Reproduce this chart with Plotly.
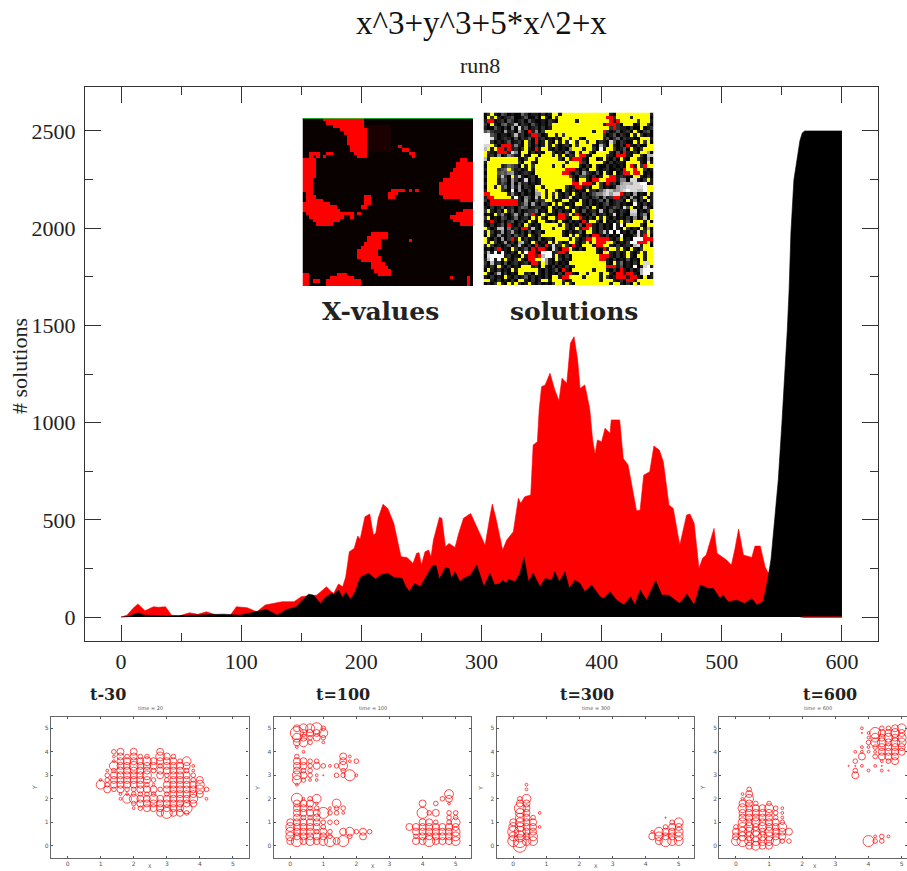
import plotly.graph_objects as go

W, H = 907, 871

# ---------- main chart data ----------
red_x = [0,5,10,14,20,27,31,37,42,48,57,64,71,80,91,96,105,113,120,127,134,144,150,163,171,175,177,181,184.5,187,190,194,197,199,203,207,210,212,214,218,222,227,230,233,238,243,246,248,250,253,256,258,260,265,267,270,273,278,281,285,291,296,303,307,309,312,315,317.6,321,326.5,330.7,332.6,336,341,343,346.5,348,350,353,357,361,364.5,367,371,374,377,380,382,386,390,392.5,394.5,396.5,400,402.8,407,408,415,418,422,429,432,435,440,443.5,448,451.3,456,459.6,465,470.7,473.5,477,481,484,487,493.5,496,504,508,511,514,518,525,527.6,532,536,538.7,540.6,565,600]
red_y = [0,10,45,67,33,53,50,53,10,5,22,14,27,10,10,53,48,27,62,70,79,79,105,113,156,130,122,170,156,206,336,353,417,400,516,530,422,431,508,580,559,482,396,310,307,276,328,331,268,336,345,310,396,513,508,362,379,358,430,508,533,465,370,516,581,508,413,345,396,439,611,585,619,628,885,902,1065,1185,1194,1254,1168,1113,1228,1202,1408,1442,1322,1176,1194,1074,911,839,911,902,971,945,1014,1014,816,782,547,550,730,748,880,859,799,576,559,370,525,530,482,250,302,319,456,328,293,268,353,453,319,307,365,365,259,225,250,0,0]
black_x = [0,6,14,19,38,66,85,99,112,121,130,138,146,156,160,166,170,175,177,181,184.5,187,191,195,199,206,212,216,222,227,234,237,240,244,249,253,259,262,265,270,273,275,278,282,285,291,296,302,307,311,315,318,320.4,322.3,328,332,335.4,339,343,348.7,352.9,358.4,361,364.8,369.5,373,377.8,382,386,391.7,398.6,401.4,407,412.5,418.6,424,427.7,432,437.4,445,450,455.5,465,471,477,482,488.8,493,498.5,501,505.4,512.4,519,525,529,534.5,538.7,541,544,547,550,552.6,554.5,556,557.5,560,563,565,567,569,600]
black_y = [0,3,22,10,5,10,15,10,27,39,10,39,53,118,113,70,100,122,115,139,99,130,91,130,204,225,194,216,225,204,199,156,130,173,156,199,262,268,194,255,250,199,233,182,199,216,268,156,225,165,173,190,173,194,182,225,307,182,225,156,199,190,233,182,233,147,190,173,130,165,105,96,130,87,62,105,62,139,87,187,113,113,70,118,62,165,147,147,96,113,79,87,70,96,62,79,207,300,499,705,996,1254,1476,1682,1975,2248,2380,2450,2490,2500,2500]
red_floor_x = [567, 600]
red_floor_y = [0, 0]

x_ticks = [0, 100, 200, 300, 400, 500, 600]
y_ticks = [0, 500, 1000, 1500, 2000, 2500]

# ---------- inset: X-values (row -> red column spans) ----------
x_value_spans = {
 0:[(6,17)],1:[(7,17)],2:[(9,17)],3:[(11,18)],4:[(12,18)],5:[(13,18)],6:[(13,18)],7:[(13,18)],
 8:[(14,18),(28,28)],9:[(14,18),(29,30)],10:[(2,4),(7,8),(15,18),(31,32)],11:[(2,2),(4,4),(6,6),(16,18),(32,32)],
 12:[(0,3),(46,47)],13:[(0,3),(45,49)],14:[(0,3),(45,49)],15:[(0,3),(44,49)],16:[(0,3),(43,49)],
 17:[(0,3),(43,49)],18:[(0,2),(41,49)],19:[(0,2),(40,49)],20:[(0,2),(40,49)],21:[(0,2),(26,29),(31,31),(33,33),(40,49)],
 22:[(1,2),(25,27),(40,49)],23:[(1,3),(18,19),(25,26),(41,49)],24:[(1,5),(18,19),(46,49)],25:[(0,7),(18,19)],
 26:[(0,9),(17,18)],27:[(0,10),(47,49)],28:[(1,12),(13,14),(16,16),(45,49)],29:[(2,11),(14,14),(43,49)],
 30:[(3,10),(44,49)],31:[(4,8),(46,49)],
 34:[(20,24)],35:[(19,24)],36:[(19,22),(31,31)],37:[(18,22)],38:[(17,22)],39:[(16,21)],40:[(16,21)],41:[(16,22)],
 42:[(17,22)],43:[(20,23)],44:[(20,24)],45:[(21,25)],46:[(0,1),(10,12),(22,25)],
 47:[(0,1),(8,14),(43,43),(48,48)],48:[(0,1),(3,4),(7,16),(48,48)],49:[(0,1),(7,16),(48,48)],
}

# ---------- inset: solutions (0-9 grey, Y yellow, R red) ----------
solution_rows = [
"02Y10320100420110201YY1YYYYYYYYYYYYYY10YYYYYYYYYY1",
"0Y2Y1012300130020Y10Y2YYYYYYYYYYYYYYRR2YYYY1YYYYY0",
"1RR0120320120310010210YYYYY1YYYYYYYYYR1RYYYYY2YYY1",
"20Y10341270210310102YYYYYYYYYYYYYYY1RRR20YYY01YY20",
"10031020508130120201YYYYYYYYYYYYYYYYY2R2110200Y012",
"3521106120620R1502YYYYYYYYYYYYYY1YYR20130120Y10230",
"99320110271201RR201YY1Y2YYYYYYYYYYY20130210Y1Y2010",
"998201210302130R1201020YY2YY10YYYYY13024021100YYY1",
"992010130120Y20R01Y10Y1Y19Y1YY2YY02108302100Y1Y2Y0",
"88Y20RRR1510Y20201Y1Y20120Y2YYYY10720Y1020R10200YY",
"7Y1YRR1R1202Y10R1YY1020105YYY1YY2091YY20130Y102YYY",
"Y210RRR1850YY02010YY2010510Y1YY20YYYY1030R1020YY60",
"Y1205015310Y10YY0YYY1Y1Y021YRR10YYYY210RRR10YY2077",
"71YYYYYYYY102YY1YYYYYY20Y1RRR10YY01Y1020Y10YY21060",
"1YYYYYYYYY20YY10YYYYYYYY1YYYR20YYYY1020110YYYY10Y1",
"0YYYY124320Y1Y2YYYYY1YY1YYYY1020Y100201010YR1Y2RYY",
"1YYY234Y31201Y1YYYYYYYYYRRR1020YY10120010RYYRYY201",
"0YYY34356101210YYYYYYYYRR1020621030Y10Y01RRYRRY010",
"1YYY2720Y2710120YYYYYYYYYR103310201YYRR12100YY1020",
"0YYY1430620180201YYYYYYYYY20YY10RRYYRRR155088102Y1",
"1YYY1320605120101YYYYYYYYYRRYRRR1Y20R1206776889901",
"0YY1Y2406160210YY1YYYYYY201RR120YY20101677888889YY",
"1YYYY21090610207YY1YY20Y102010Y12036875678988779YY",
"RRYYYYY1510201066Y1Y2Y1020Y1020135578688R1206010Y1",
"1RRYYYYY191052071Y1Y1Y102Y010210230512RR1206102Y01",
"20RRRRRRRR10610312YY201YY010Y1020130401220Y15020Y1",
"01RRRRRRRR1250610320Y1Y2010YY102010230120100910201",
"1020130120243012201Y0201Y1020130Y1020132083Y010610",
"2Y1020Y130201224010Y102010Y1030120710310210880102Y",
"010Y2510261052R10Y2010RR2Y1R101030120180200770250Y",
"2Y010320140120Y1Y20YY1RR10YYR1020Y1Y1020102050170Y",
"01R1020230120Y10YY1020Y102010R1YY20Y0102Y130YYY1Y0",
"1020130R1020Y2010YYYYY1Y201030RR1020109190YYYY20YY",
"Y2017704120RR1710YYY1YYY201Y1RRY102010910Y2010Y160",
"1Y2016026102030120YYYYY1020130YY1027190901020812Y1",
"0Y10510203120Y102YYYYYY10Y1Y1020RR1020109000281RY0",
"Y1020602R1Y0201030120YYYY1Y201RRYRRRR102Y010999RRR",
"Y1Y20160206710Y2010Y1Y201YY102Y1YRRRYY2010299RRRY1",
"1Y2010130171020R10R1812Y20R10YYY1RRYY1020120781YY0",
"0102R010Y20130R1RR10820RRY1020YYY10R1YY2Y10Y102YYY",
"1719091020Y19RR1099912RR1YYYYYYYY10YY10201Y102Y1YY",
"08999912010Y1RR2R7991Y1020YYYYYYYYRRR10201Y10YY1YY",
"179191Y102Y10RRYY9610Y2010YYYYYYYYRR1020103010Y1YY",
"20712030120120RR1Y6102010YYYYYYYYYYY10Y1401020Y88Y",
"1020Y102010YYY120Y102010201YYYYYYYYYRRR13010901891",
"0Y102010Y1YYYYYY1020130R10YYYYYY1YYY1020R102017999",
"Y102702010YY120Y10201020RR10YY1YYY1YY10RR1RR107991",
"102010Y1020130201020YY1RRYYYY1YYYY1Y201RRR1RR10Y01",
"YY10201020YY10201YY1YYY201YYYYYYYY1YYY1020RR1YYYYY",
"0102Y10Y1Y201Y1020102YY1Y20YYYYYYYYYY1YY1020Y1YYYY",
]

# ---------- bubble panels: {y: {x index (x/0.2): size class}} ----------
panel_a = {
 4.0:{7:3,8:4,10:4,14:4},
 3.8:{7:2,8:4,9:3,10:4,11:3,12:3,14:5,15:4,16:3},
 3.6:{7:2,8:4,9:4,10:4,11:4,12:5,13:4,14:4,15:4,16:4,17:3,18:5},
 3.4:{7:5,8:4,9:4,10:5,11:4,12:4,13:4,14:3,15:4,16:4,17:4,18:4,19:2},
 3.2:{6:2,7:3,8:4,9:4,10:4,11:4,12:4,13:3,14:4,15:4,16:4,17:4,18:3,19:2},
 3.0:{6:3,7:4,8:4,9:4,10:4,11:4,12:5,14:4,15:3,16:4,17:4,18:4,19:3},
 2.8:{5:2,6:3,7:4,8:4,9:4,10:4,11:4,12:4,13:3,15:3,16:4,17:4,18:4,19:3,20:4},
 2.6:{5:5,6:3,7:4,8:4,9:4,10:4,11:4,12:3,13:2,15:4,16:4,17:4,18:4,19:4,20:5},
 2.4:{6:4,7:3,8:4,9:3,10:3,11:4,12:4,13:4,14:3,15:4,16:4,17:4,18:4,19:4,20:5,21:3},
 2.2:{8:2,9:2,10:3,11:3,12:3,13:3,15:3,16:4,17:4,18:4,19:4,20:4},
 2.0:{8:2,9:5,10:5,11:4,12:4,13:5,14:4,15:4,16:4,17:4,18:4,19:5,21:2},
 1.8:{10:3,11:4,12:4,13:4,14:4,15:4,16:4,17:4,18:4,19:4},
 1.6:{10:2,11:3,12:4,13:4,14:4,15:4,16:4,17:4,18:6},
 1.4:{14:4,15:6,16:4,17:4,18:3},
}
panel_b = {
 5.0:{1:4,2:5,3:5,4:6,5:3},4.8:{1:7,2:4,3:4,4:4,5:5},4.6:{1:5,2:4,3:3,4:4,5:3},4.4:{1:4,2:5,3:3,5:2},
 4.2:{1:2},4.0:{2:2},3.8:{1:3,8:4,9:2},3.6:{1:4,2:4,3:3,4:3,8:4,9:2,10:3},
 3.4:{1:4,2:4,3:3,4:4,5:3,6:2,7:3,8:5},3.2:{1:4,2:3,3:3,8:3},3.0:{1:5,2:4,3:3,4:2,5:1,7:3,8:3,9:6,10:2},
 2.8:{1:5,2:3,3:2,4:2},2.6:{1:2},2.2:{24:5},2.0:{1:6,2:2,3:3,4:5,23:3,24:4},
 1.8:{1:4,2:4,3:4,4:2,7:5,20:4,22:3,24:2},1.6:{1:4,2:4,3:3,4:3,6:2,7:3,8:3},
 1.4:{1:4,2:4,3:4,4:4,5:6,6:3,7:3,8:2,20:6,21:3,22:4,24:3,25:3},1.2:{1:4,2:3,3:3,4:4,24:3,25:3},
 1.0:{0:4,1:4,2:4,3:4,4:4,5:3,6:3,7:3,20:4,21:4,22:3,24:3,25:5},
 0.8:{0:5,1:4,2:4,3:4,4:4,5:3,18:4,19:4,20:4,21:4,22:4,23:4,24:4,25:4},
 0.6:{0:5,1:4,2:4,3:4,4:3,5:4,6:3,8:4,9:5,10:3,11:4,12:3,19:4,20:4,21:4,22:4,23:4,24:4,25:5},
 0.4:{0:5,1:4,2:4,3:4,4:4,5:4,6:3,9:3,11:4,19:3,20:4,21:4,22:4,23:4,24:4,25:5},
 0.2:{0:4,1:6,2:4,3:5,4:4,5:5,6:6,7:4,8:6,19:4,20:4,21:6,22:4,23:4,24:4,25:5},
}
panel_c = {
 2.6:{2:2},2.4:{2:2},2.0:{1:3,2:5},1.8:{1:4,2:4},1.6:{1:6,2:4},1.4:{1:5,2:4,4:2},1.2:{1:5,2:4,3:3,23:1},
 1.0:{0:4,1:5,2:4,3:4,24:3,25:5},0.8:{0:5,1:5,2:4,3:4,4:2,23:3,24:4,25:4},
 0.6:{0:6,1:6,2:4,3:4,21:2,22:5,23:4,24:4,25:5},0.4:{0:5,1:6,2:4,3:5,21:4,22:5,23:4,24:4,25:5},
 0.2:{0:6,1:7,2:5,3:5,22:4,23:6,24:5,25:5},0.0:{1:7},
}
panel_d = {
 5.0:{19:2,22:3,23:3,24:4,25:5},4.8:{19:1,20:2,21:6,22:4,23:4,24:5,25:4},4.6:{20:2,21:5,22:4,23:5,24:4,25:5},
 4.4:{20:3,21:5,22:5,23:4,24:5,25:5},4.2:{19:2,20:2,21:3,22:4,23:4,24:4,25:4},
 4.0:{18:2,19:2,20:2,21:2,22:4,23:4,24:4,25:4},3.8:{19:4,21:3,22:4,23:4,24:4},3.6:{18:3,22:2,23:3,24:4},
 3.4:{17:1,18:1,19:2,21:2,22:1},3.2:{18:3,20:2,22:2,23:1},3.0:{18:4},
 2.4:{2:3},2.2:{1:2,2:4},2.0:{1:2,2:5},1.8:{1:4,2:4,3:3,5:3},1.6:{1:5,2:4,3:4,4:4,5:5,6:3,7:2},
 1.4:{1:4,2:4,3:4,4:4,5:4,6:3,7:2},1.2:{1:4,2:4,3:4,4:4,5:4,6:3,7:2},1.0:{1:5,2:4,3:5,4:4,5:4,6:4,7:3},
 0.8:{0:3,1:5,2:5,3:4,4:5,5:4,6:4,7:5},0.6:{0:4,1:5,2:5,3:5,4:4,5:5,6:4,7:4,8:4},
 0.4:{0:4,1:5,2:5,3:6,4:5,5:5,6:4,7:4,21:2,22:3,23:2},0.2:{0:5,1:6,2:5,3:5,4:5,5:5,6:5,7:3,8:3,20:6,21:3,22:3},
 0.0:{2:4,3:5,4:4,5:4},
}
panel_titles = ["time = 20", "time = 100", "time = 300", "time = 600"]
panel_captions = ["t-30", "t=100", "t=300", "t=600"]
panel_ticks = [0, 1, 2, 3, 4, 5]

# ---------- helpers ----------
def dom_x(a, b): return [a / W, min(b / W, 1)]
def dom_y(top, bottom): return [1 - bottom / H, 1 - top / H]
def px(x): return x / W
def py(y): return 1 - y / H

fig = go.Figure()
SERIF = "Liberation Serif"
CAPTION = "DejaVu Serif"

fig.add_trace(go.Scatter(x=red_x, y=red_y, mode="lines", line=dict(color="#ff0000", width=0.6), fill="tozeroy", fillcolor="#ff0000", xaxis="x", yaxis="y", showlegend=False))
fig.add_trace(go.Scatter(x=black_x, y=black_y, mode="lines", line=dict(color="#000000", width=0.6), fill="tozeroy", fillcolor="#000000", xaxis="x", yaxis="y", showlegend=False))
fig.add_trace(go.Scatter(x=red_floor_x, y=red_floor_y, mode="lines", line=dict(color="#ff0000", width=1.2), xaxis="x", yaxis="y", showlegend=False))

main_minor = dict(ticks="inside", ticklen=8, tickwidth=1.3, tickcolor="#333")
layout = dict(
    width=W, height=H, autosize=False, margin=dict(l=0, r=0, t=0, b=0),
    paper_bgcolor="white", plot_bgcolor="white", showlegend=False,
    xaxis=dict(domain=dom_x(85, 878), range=[-30, 630], tickvals=x_ticks, ticks="inside", ticklen=16, tickwidth=1.3, tickcolor="#333",
               minor=dict(main_minor, dtick=50, tick0=0),
               mirror="allticks", showline=True, linecolor="#333", linewidth=1.3, showgrid=False, zeroline=False,
               tickfont=dict(family=SERIF, size=22, color="#222"), anchor="y"),
    yaxis=dict(domain=dom_y(87, 641), range=[-123, 2726], tickvals=y_ticks, ticks="inside", ticklen=16, tickwidth=1.3, tickcolor="#333",
               minor=dict(main_minor, dtick=250, tick0=0), ticklabelstandoff=4,
               mirror="allticks", showline=True, linecolor="#333", linewidth=1.3, showgrid=False, zeroline=False,
               tickfont=dict(family=SERIF, size=22, color="#222"), anchor="x"),
)

# inset images
xv = []
for r in range(50):
    row = [0] * 50
    for c in range(18, 26):
        if 2 <= r <= 9:
            row[c] = 1
    for a, b in x_value_spans.get(r, []):
        for c in range(a, b + 1):
            row[c] = 2
    xv.append(row)
fig.add_trace(go.Heatmap(z=xv, xaxis="x6", yaxis="y6", showscale=False, hoverinfo="skip", zmin=0, zmax=2,
                         colorscale=[[0, "#090000"], [0.33, "#090000"], [0.33, "#1a0000"], [0.67, "#1a0000"], [0.67, "#ff0000"], [1, "#ff0000"]]))
fig.add_trace(go.Scatter(x=[-0.5, 49.5], y=[-0.5, -0.5], mode="lines", line=dict(color="#22dd33", width=1.6), xaxis="x6", yaxis="y6", showlegend=False, cliponaxis=False))
layout["xaxis6"] = dict(domain=dom_x(302.5, 473), range=[-0.5, 49.5], visible=False, anchor="y6")
layout["yaxis6"] = dict(domain=dom_y(118, 286), range=[49.5, -0.5], visible=False, anchor="x6")

code = {str(i): i for i in range(10)}
code["Y"] = 10
code["R"] = 11
sol = [[code[ch] for ch in row.ljust(50, "0")[:50]] for row in solution_rows]
stops = []
greys = [5, 28, 50, 80, 105, 130, 155, 185, 215, 250]
cols = [f"rgb({g},{g},{g})" for g in greys] + ["#ffff00", "#ff0000"]
for i, col in enumerate(cols):
    stops += [[i / 12, col], [(i + 1) / 12, col]]
fig.add_trace(go.Heatmap(z=sol, xaxis="x7", yaxis="y7", showscale=False, hoverinfo="skip", zmin=-0.5, zmax=11.5, colorscale=stops))
layout["xaxis7"] = dict(domain=dom_x(483.5, 653.5), range=[-0.5, 49.5], visible=False, anchor="y7")
layout["yaxis7"] = dict(domain=dom_y(112.5, 285), range=[49.5, -0.5], visible=False, anchor="x7")

# bubble panels
size_class = {1: 1.2, 2: 2.8, 3: 4.6, 4: 7, 5: 8.8, 6: 11, 7: 13}
panels = [
    (panel_a, 51, 248.5, [-0.5, 5.47], 108),
    (panel_b, 273.7, 471.2, [-0.5, 5.47], 343),
    (panel_c, 496.7, 694.3, [-0.5, 5.47], 587),
    (panel_d, 719.3, 907, [-0.5, 5.16], 830),
]
anns = []
for i, (pdata, x0, x1, xr, capx) in enumerate(panels):
    n = i + 2
    xs, ys, ss = [], [], []
    for y, cells in pdata.items():
        for k, s in cells.items():
            xs.append(k * 0.2)
            ys.append(y)
            ss.append(size_class[s])
    fig.add_trace(go.Scatter(x=xs, y=ys, mode="markers", xaxis=f"x{n}", yaxis=f"y{n}", showlegend=False,
                             marker=dict(symbol="circle-open", size=ss, color="#ff0000", line=dict(color="#ff0000", width=1))))
    layout[f"xaxis{n}"] = dict(domain=dom_x(x0, x1), range=xr, tickvals=panel_ticks, ticks="inside", ticklen=2, tickwidth=1, tickcolor="#555",
                               mirror="allticks", showline=True, linecolor="#666", linewidth=1.2, showgrid=False, zeroline=False,
                               tickfont=dict(family="DejaVu Sans", size=6, color="#555"), anchor=f"y{n}")
    layout[f"yaxis{n}"] = dict(domain=dom_y(717, 858), range=[-0.52, 5.48], tickvals=panel_ticks, ticks="inside", ticklen=2, tickwidth=1, tickcolor="#555",
                               mirror="allticks", showline=True, linecolor="#666", linewidth=1.2, showgrid=False, zeroline=False,
                               tickfont=dict(family="DejaVu Sans", size=6, color="#555"), anchor=f"x{n}")
    anns.append(dict(x=px(x0 + 99), y=py(708), text=panel_titles[i], font=dict(family="DejaVu Sans", size=5, color="#555")))
    anns.append(dict(x=px(x0 + 99 if i < 3 else 815), y=py(866), text="X", font=dict(family="DejaVu Sans", size=5, color="#555")))
    anns.append(dict(x=px(x0 - 17), y=py(788), text="Y", textangle=-90, font=dict(family="DejaVu Sans", size=6, color="#555")))
    anns.append(dict(x=px(capx), y=py(694), text=f"<b>{panel_captions[i]}</b>", font=dict(family=CAPTION, size=16, color="#222")))

anns += [
    dict(x=px(481.5), y=py(23), text="x^3+y^3+5*x^2+x", font=dict(family=SERIF, size=33, color="#111")),
    dict(x=px(480), y=py(66), text="run8", font=dict(family=SERIF, size=22, color="#222")),
    dict(x=px(19), y=py(366), text="# solutions", textangle=-90, font=dict(family=SERIF, size=22, color="#222")),
    dict(x=px(380), y=py(312), text="<b>X-values</b>", font=dict(family=CAPTION, size=25, color="#222")),
    dict(x=px(574), y=py(312), text="<b>solutions</b>", font=dict(family=CAPTION, size=25, color="#222")),
]
for a in anns:
    a.update(xref="paper", yref="paper", showarrow=False, xanchor="center", yanchor="middle")
layout["annotations"] = anns
fig.update_layout(**layout)
fig.write_html("out.html", config={"displayModeBar": False}, post_script="document.body.style.margin='0';")
